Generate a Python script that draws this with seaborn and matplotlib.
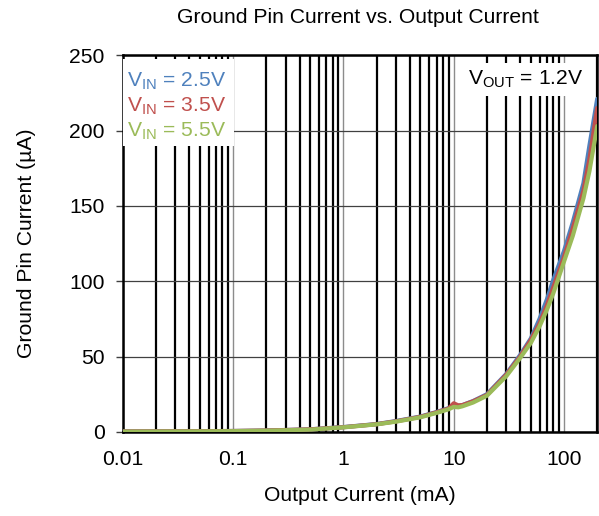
import matplotlib
matplotlib.use("Agg")
import matplotlib.pyplot as plt
import seaborn as sns
import pandas as pd
from matplotlib.ticker import FixedLocator, FixedFormatter, LogLocator, NullFormatter

sns.set_theme(style="white")
plt.rcParams['font.family'] = ['Liberation Sans', 'DejaVu Sans']
plt.rcParams['mathtext.fontset'] = 'custom'
plt.rcParams['mathtext.rm'] = 'Liberation Sans'
plt.rcParams['text.color'] = 'black'
plt.rcParams['axes.labelcolor'] = 'black'
plt.rcParams['xtick.color'] = 'black'
plt.rcParams['ytick.color'] = 'black'

# dados
corrente_saida = [0.01, 0.02, 0.05, 0.1, 0.2, 0.5, 1, 2, 3, 5, 7, 9, 10, 11, 12,
                  15, 20, 30, 40, 50, 60, 70, 80, 100, 120, 150, 170, 200]
gnd_25 = [0.3, 0.35, 0.45, 0.6, 0.9, 1.7, 3.2, 5.2, 7.2, 10.2, 13.2, 15.8, 17.5, 17.3, 17.8,
          20.5, 25, 38.5, 51, 62, 75, 88, 101, 120, 139, 165, 190, 221]
gnd_35 = [0.3, 0.35, 0.45, 0.6, 0.9, 1.7, 3.1, 5.1, 7.0, 10.0, 13.0, 15.5, 19.0, 17.6, 17.8,
          20.3, 24.5, 38, 50, 61, 72, 84, 96, 116, 135, 160, 181, 215]
gnd_55 = [0.2, 0.25, 0.35, 0.5, 0.8, 1.5, 3.0, 5.0, 6.8, 9.7, 12.6, 15.0, 16.6, 16.3, 17.0,
          19.5, 24, 37, 49, 59, 70, 81, 92, 113, 130, 155, 173, 203]

series = {"2.5": gnd_25, "3.5": gnd_35, "5.5": gnd_55}
cores = {"2.5": "#4F81BD", "3.5": "#C0504D", "5.5": "#9BBB59"}

df = pd.concat([
    pd.DataFrame({"iout": corrente_saida, "ignd": v, "vin": k}) for k, v in series.items()
])

fig = plt.figure(figsize=(5.99, 5.16), dpi=100)
ax = fig.add_axes([0.205, 0.163, 0.792, 0.730])

sns.lineplot(data=df, x="iout", y="ignd", hue="vin", palette=cores, linewidth=3,
             legend=False, ax=ax, zorder=3)

ax.set_xscale("log")
ax.set_xlim(0.01, 200)
ax.set_ylim(0, 250)
ax.set_yticks([0, 50, 100, 150, 200, 250])

ax.xaxis.set_major_locator(FixedLocator([0.01, 0.1, 1, 10, 100]))
ax.xaxis.set_major_formatter(FixedFormatter(["0.01", "0.1", "1", "10", "100"]))
ax.xaxis.set_minor_locator(LogLocator(base=10, subs=range(2, 10)))
ax.xaxis.set_minor_formatter(NullFormatter())

# grade: menores pretas e grossas, maiores cinzas e finas
ax.grid(which="minor", axis="x", color="black", linewidth=1.6)
ax.grid(which="major", axis="x", color="#8c8c8c", linewidth=1.0)
ax.grid(which="major", axis="y", color="#404040", linewidth=0.9)
ax.set_axisbelow(True)

for s in ax.spines.values():
    s.set_color("black")
    s.set_linewidth(1.8)

ax.tick_params(axis="y", which="major", left=True, length=5, width=1, color="#404040",
               labelsize=15.2, pad=8)
ax.tick_params(axis="x", which="both", bottom=False, labelsize=15.2, pad=7)

ax.set_xlabel("Output Current (mA)", fontsize=15.2, labelpad=12)
ax.set_ylabel("Ground Pin Current (µA)", fontsize=15.2, labelpad=24)
fig.text(0.598, 0.966, "Ground Pin Current vs. Output Current", fontsize=15.2,
         ha="center", va="center")

# legenda com texto colorido
ax.add_patch(plt.Rectangle((0.0, 0.76), 0.235, 0.23, transform=ax.transAxes,
                           facecolor="white", edgecolor="none", zorder=4))
for i, k in enumerate(series):
    ax.text(0.008, 0.932 - i * 0.067, r"V$_{\mathregular{IN}}$ = " + k + "V",
            transform=ax.transAxes, color=cores[k], fontsize=15.2,
            ha="left", va="center", zorder=5)

ax.text(0.85, 0.935, r"V$_{\mathregular{OUT}}$ = 1.2V", transform=ax.transAxes,
        fontsize=15.2, ha="center", va="center", zorder=5,
        bbox=dict(facecolor="white", edgecolor="none", pad=4))

fig.savefig("out.png", dpi=100)
